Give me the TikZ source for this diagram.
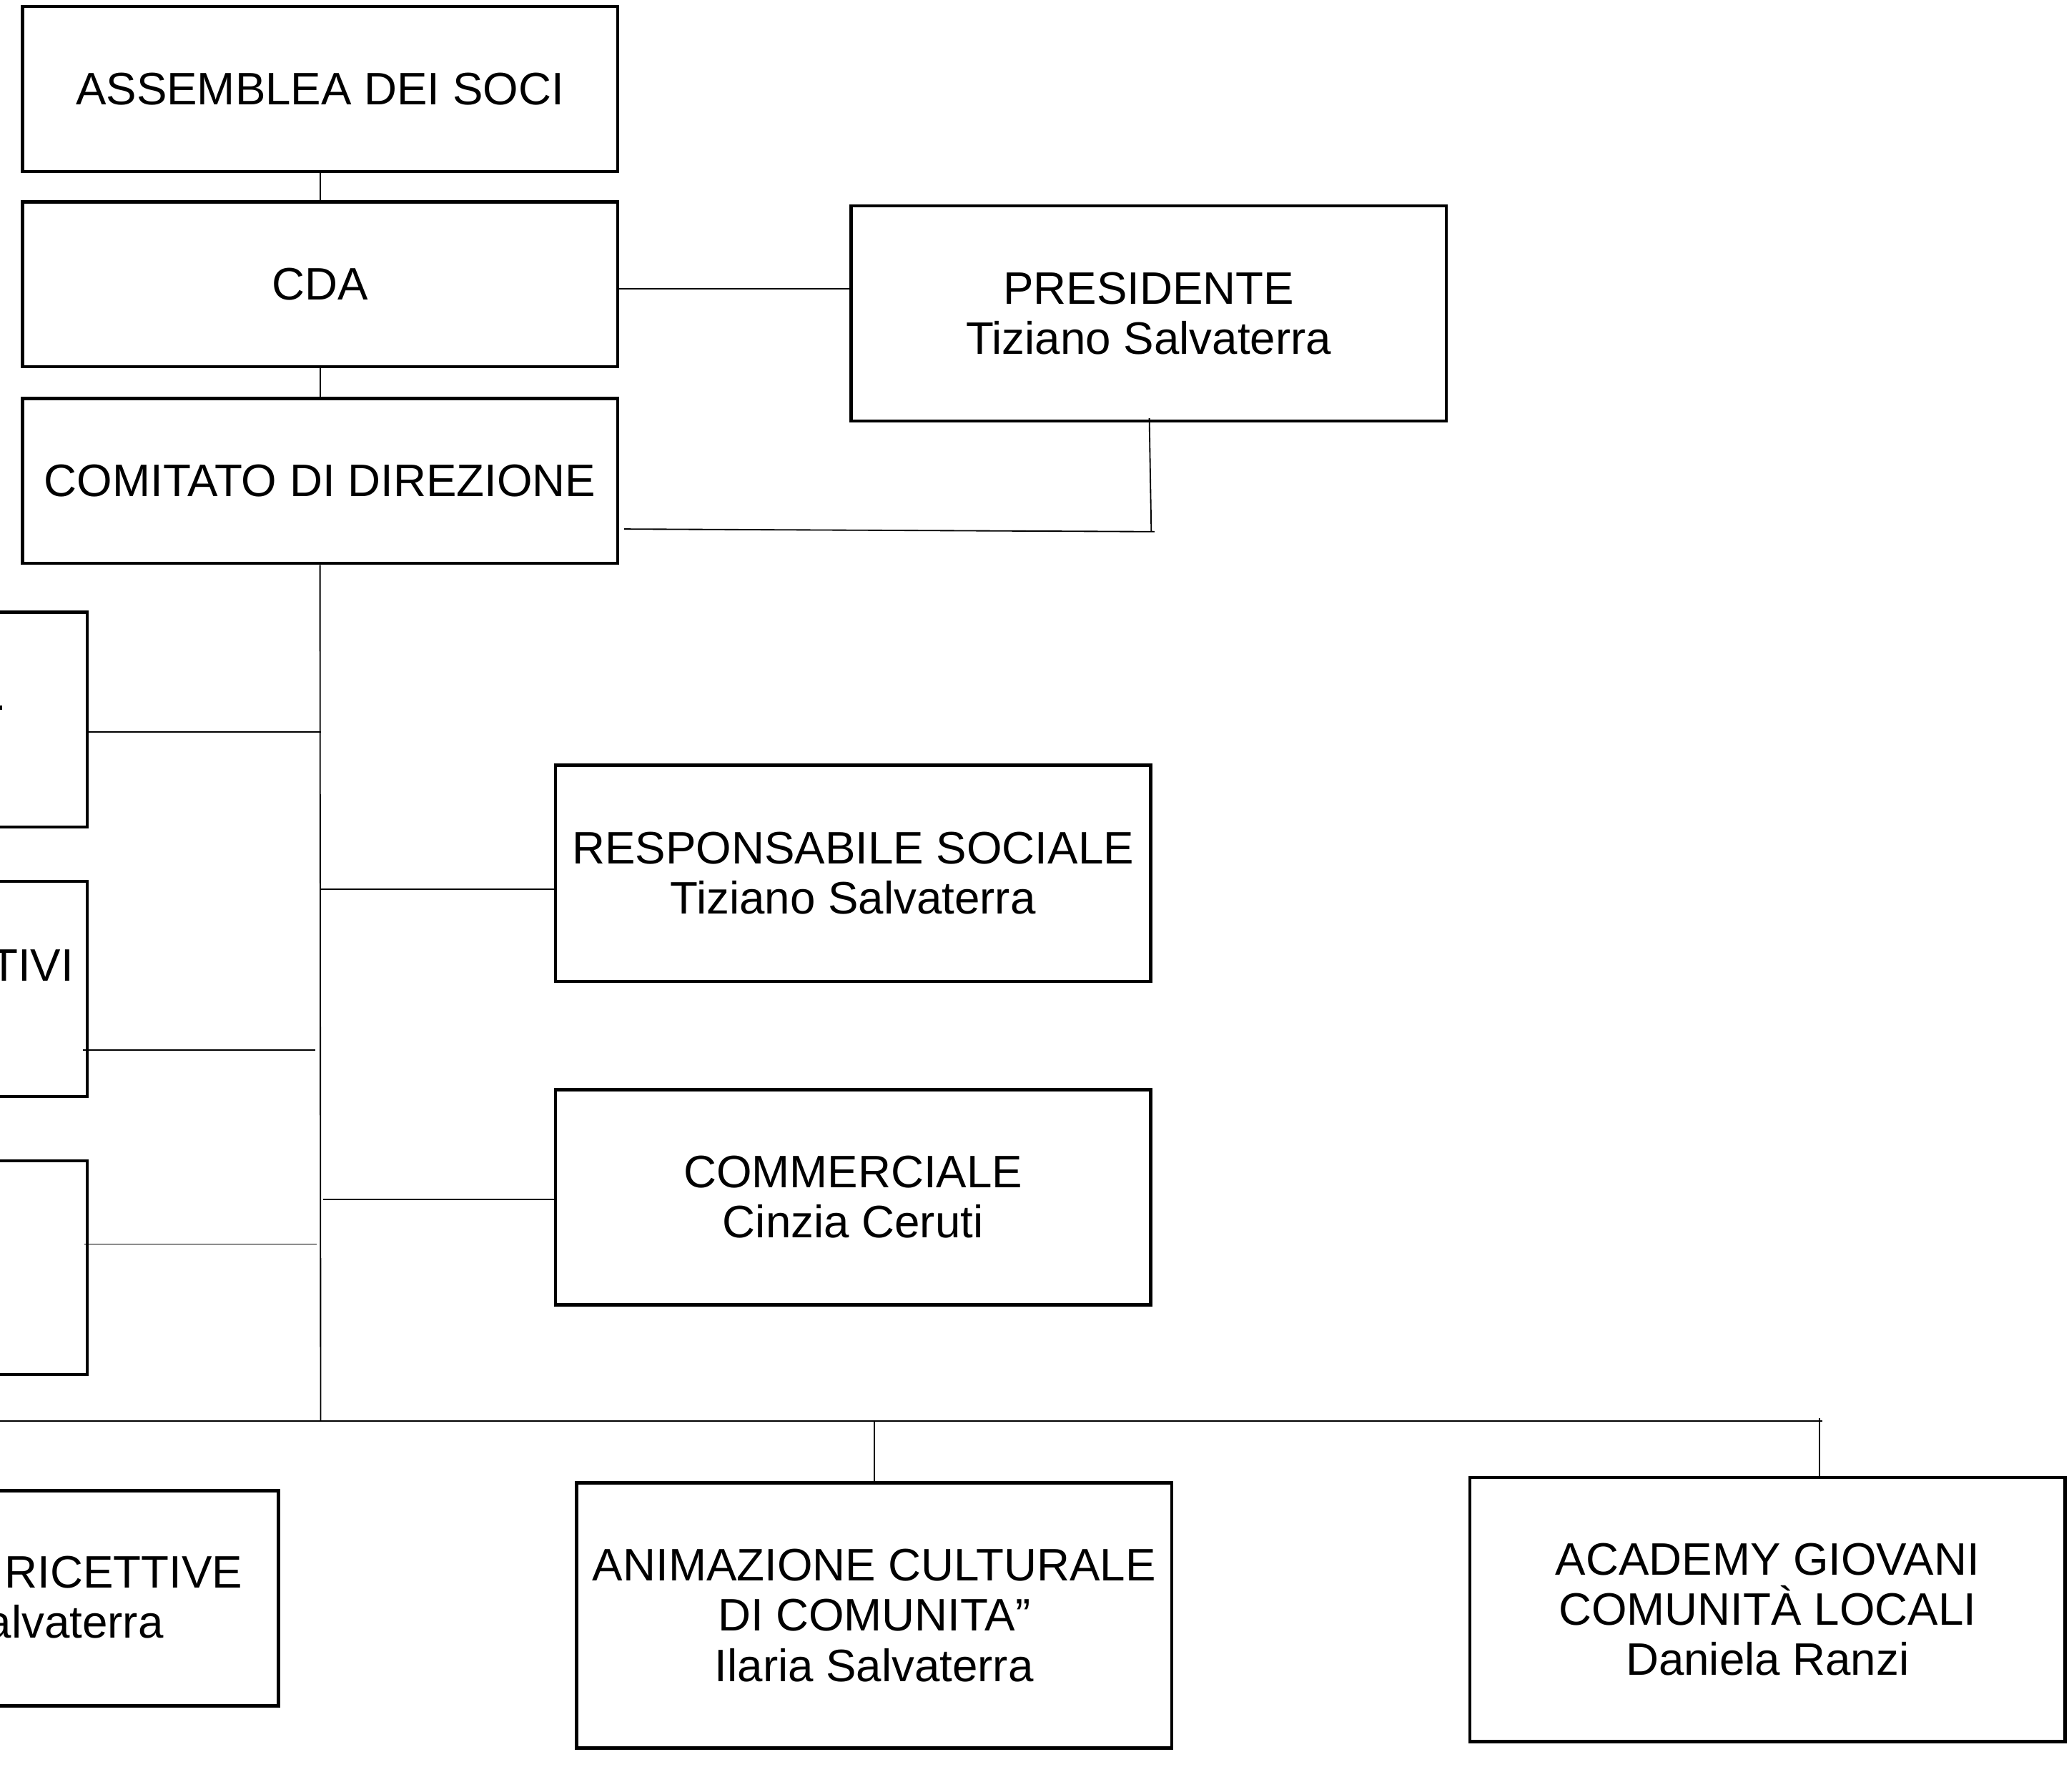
\documentclass[tikz,border=0pt]{standalone}
\usepackage{fontspec}
\setmainfont{Liberation Sans}
\begin{document}
\begin{tikzpicture}[x=1pt,y=-1pt,
  box/.style={draw, line width=2.4pt, inner sep=0pt, align=center,
              font=\fontsize{34.5}{38}\selectfont},
  lbl/.style={inner sep=0pt, font=\fontsize{34.5}{38}\selectfont},
  conn/.style={line width=1pt}]
\useasboundingbox (0,0) rectangle (1568,1357.8);
\clip (0,0) rectangle (1568,1357.8);
% main column
\node[box, minimum width=451pt, minimum height=125pt] (asm) at (242.5,67.5) {ASSEMBLEA DEI SOCI};
\node[box, minimum width=451pt, minimum height=125pt] (cda) at (242.5,215.5) {CDA};
\node[box, minimum width=451pt, minimum height=125pt] (com) at (242.5,364.5) {COMITATO DI DIREZIONE};
\node[box, minimum width=451pt, minimum height=163pt] (pres) at (870.5,237.5) {PRESIDENTE\\Tiziano Salvaterra};
\node[box, minimum width=451pt, minimum height=164pt] (resp) at (646.5,662) {RESPONSABILE SOCIALE\\Tiziano Salvaterra};
\node[box, minimum width=451pt, minimum height=163pt] (comm) at (646.5,907.5) {COMMERCIALE\\Cinzia Ceruti};
\node[box, minimum width=451pt, minimum height=201pt] (anim) at (662.5,1224.5) {ANIMAZIONE CULTURALE\\DI COMUNITA”\\Ilaria Salvaterra};
\node[box, minimum width=451pt, minimum height=200pt] (acad) at (1339.5,1220) {ACADEMY GIOVANI\\COMUNITÀ LOCALI\\Daniela Ranzi};
% partially visible boxes on the left
\node[box, minimum width=200pt, minimum height=163pt] (l1) at (-34,545.5) {};
\node[box, minimum width=200pt, minimum height=163pt] (l2) at (-34,749.5) {};
\node[box, minimum width=200pt, minimum height=162pt] (l3) at (-34,961) {};
\node[box, minimum width=400pt, minimum height=163pt] (l4) at (11,1211.5) {};
\node[lbl, anchor=base east] (l2t) at (56,743.4) {TIVI};
\node[lbl, anchor=base east] (l4a) at (184,1203.4) {RICETTIVE};
\node[lbl, anchor=base east] (l4b) at (124,1241.4) {alvaterra};
\fill (0,535) rectangle (1.5,538);
% connectors
\draw[conn] (asm.south) -- (cda.north);
\draw[conn] (cda.south) -- (com.north);
\draw[conn] (cda.east |- 0,219) -- (pres.west |- 0,219);
\coordinate (pcorner) at (872.5,403);
\coordinate (pstart) at (871,317);
\coordinate (cstart) at (473,401);
\draw[conn] (pstart) -- (pcorner);
\draw[conn] (cstart) -- (875,403);
\coordinate (trunkend) at (243,1077);
\draw[conn] (com.south) -- (trunkend);
\coordinate (busL) at (-5,1077);
\coordinate (busR) at (1381,1077);
\draw[conn] (busL) -- (busR);
\draw[conn] (anim.north |- busR) -- (anim.north);
\coordinate (acadtop) at ([xshift=39.5pt]acad.north);
\coordinate (acadbus) at (1379,1075);
\draw[conn] (acadbus) -- (acadtop);
% side branches
\draw[conn] (l1.east |- 0,555) -- (trunkend |- 0,555);
\coordinate (r1) at (243,674);
\draw[conn] (r1) -- (resp.west |- r1);
\coordinate (a2) at (63,796);
\coordinate (b2) at (239,796);
\draw[conn] (a2) -- (b2);
\coordinate (cm0) at (245,909);
\draw[conn] (cm0) -- (comm.west |- cm0);
\coordinate (a3) at (64,943);
\coordinate (b3) at (240,943);
\draw[conn] (a3) -- (b3);
\end{tikzpicture}
\end{document}
